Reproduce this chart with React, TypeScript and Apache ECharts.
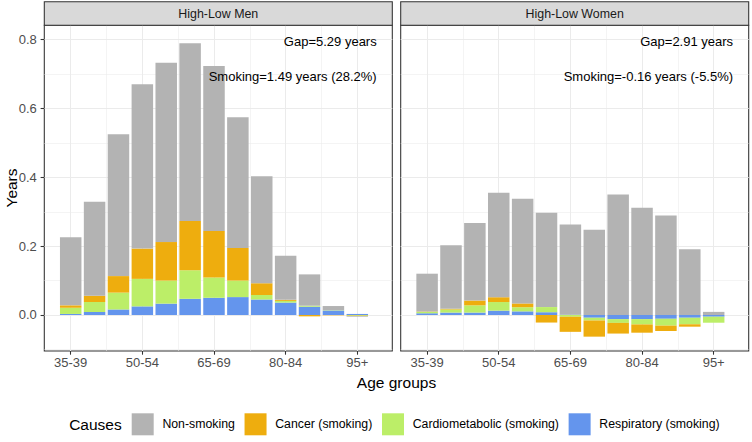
import React, { useEffect, useRef } from 'react';
import * as echarts from 'echarts';

// ---------- data ----------
const ageGroups = ['35-39', '40-44', '45-49', '50-54', '55-59', '60-64', '65-69', '70-74', '75-79', '80-84', '85-89', '90-94', '95+'];
const causes = ['Non-smoking', 'Cancer (smoking)', 'Cardiometabolic (smoking)', 'Respiratory (smoking)'];
const causeColors = ['#B3B3B3', '#EEAD0E', '#BCEE68', '#6495ED'];

const menNonSmoking = [0.198, 0.273, 0.412, 0.478, 0.521, 0.517, 0.480, 0.380, 0.311, 0.128, 0.091, 0.012, -0.002];
const menCancer = [0.007, 0.018, 0.048, 0.088, 0.112, 0.143, 0.135, 0.095, 0.034, 0.003, -0.004, -0.001, -0.001];
const menCardio = [0.018, 0.029, 0.049, 0.080, 0.067, 0.083, 0.059, 0.048, 0.013, 0.005, 0.003, 0.001, -0.002];
const menResp = [0.003, 0.009, 0.016, 0.025, 0.033, 0.047, 0.050, 0.052, 0.045, 0.036, 0.024, 0.013, 0.003];

const womenNonSmoking = [0.110, 0.185, 0.225, 0.304, 0.304, 0.274, 0.262, 0.248, 0.350, 0.312, 0.289, 0.191, 0.009];
const womenCancer = [0.001, 0.002, 0.014, 0.014, 0.011, -0.022, -0.044, -0.047, -0.031, -0.024, -0.0155, -0.007, 0];
const womenCardio = [0.004, 0.009, 0.021, 0.025, 0.012, 0.015, -0.005, -0.008, -0.011, -0.0155, -0.020, -0.019, -0.0175];
const womenResp = [0.005, 0.007, 0.007, 0.0126, 0.0105, 0.008, 0.001, -0.008, -0.012, -0.012, -0.011, -0.008, -0.005];

const panelTitles = ['High-Low Men', 'High-Low Women'];
const gapLabels = ['Gap=5.29 years', 'Gap=2.91 years'];
const smokingLabels = ['Smoking=1.49 years (28.2%)', 'Smoking=-0.16 years (-5.5%)'];

const yTicks = [0, 0.2, 0.4, 0.6, 0.8];
const yMinorTicks = [-0.1, 0.1, 0.3, 0.5, 0.7];
const xTickPositions = [1, 4, 7, 10, 13];
const xMinorPositions = [2.5, 5.5, 8.5, 11.5];

// values per panel, in cause order (Non-smoking, Cancer, Cardio, Resp)
const panelValues = [
  [menNonSmoking, menCancer, menCardio, menResp],
  [womenNonSmoking, womenCancer, womenCardio, womenResp],
];

// ---------- layout ----------
const FONT = 'Liberation Sans, Arial, Helvetica, sans-serif';
const PANEL_LEFTS = [44.3, 400.7];
const PANEL_W = 348;
const PANEL_TOP = 25.3;
const PANEL_H = 325.7;
const STRIP_TOP = 1.7;
const X_MIN = -0.1055;
const X_MAX = 14.466;
const Y_MIN = -0.1047;
const Y_MAX = 0.842;
const UNIT = PANEL_W / (X_MAX - X_MIN);

function buildOption() {
  const grids: any[] = [];
  const xAxes: any[] = [];
  const yAxes: any[] = [];
  const series: any[] = [];

  PANEL_LEFTS.forEach((left, p) => {
    // panel grid (frame, ticks, grid lines)
    const gPanel = grids.length;
    grids.push({
      left,
      top: PANEL_TOP,
      width: PANEL_W,
      height: PANEL_H,
      show: true,
      backgroundColor: '#FFFFFF',
      borderColor: '#333333',
      borderWidth: 1.07,
    });
    // data grid (category band area for the bars)
    const gData = grids.length;
    grids.push({
      left: left + (0.5 - X_MIN) * UNIT,
      top: PANEL_TOP,
      width: ageGroups.length * UNIT,
      height: PANEL_H,
      show: false,
    });

    xAxes.push({
      type: 'value',
      gridIndex: gPanel,
      min: X_MIN,
      max: X_MAX,
      position: 'bottom',
      axisLine: { show: false, onZero: false },
      axisTick: {
        show: true,
        length: 3.7,
        lineStyle: { color: '#333333', width: 1.07 },
        customValues: xTickPositions,
      },
      axisLabel: {
        customValues: xTickPositions,
        formatter: (v: number) => ageGroups[Math.round(v) - 1] ?? '',
        color: '#4D4D4D',
        fontSize: 13,
        fontFamily: FONT,
        margin: 5,
      },
      splitLine: { show: true, lineStyle: { color: '#EBEBEB', width: 1.07 } },
    });
    xAxes.push({
      type: 'value',
      gridIndex: gPanel,
      min: X_MIN,
      max: X_MAX,
      position: 'bottom',
      axisLine: { show: false, onZero: false },
      axisTick: { show: false, customValues: xMinorPositions },
      axisLabel: { show: false, customValues: xMinorPositions },
      splitLine: { show: true, lineStyle: { color: '#EBEBEB', width: 0.53 } },
    });
    const xData = xAxes.length;
    xAxes.push({
      type: 'category',
      gridIndex: gData,
      data: ageGroups,
      boundaryGap: true,
      show: false,
    });

    yAxes.push({
      type: 'value',
      gridIndex: gPanel,
      min: Y_MIN,
      max: Y_MAX,
      position: 'left',
      axisLine: { show: false, onZero: false },
      axisTick: {
        show: p === 0,
        length: 3.7,
        lineStyle: { color: '#333333', width: 1.07 },
        customValues: yTicks,
      },
      axisLabel: {
        show: p === 0,
        customValues: yTicks,
        formatter: (v: number) => v.toFixed(1),
        color: '#4D4D4D',
        fontSize: 13,
        fontFamily: FONT,
        margin: 7.5,
      },
      splitLine: { show: true, lineStyle: { color: '#EBEBEB', width: 1.07 } },
    });
    yAxes.push({
      type: 'value',
      gridIndex: gPanel,
      min: Y_MIN,
      max: Y_MAX,
      position: 'left',
      axisLine: { show: false, onZero: false },
      axisTick: { show: false, customValues: yMinorTicks },
      axisLabel: { show: false, customValues: yMinorTicks },
      splitLine: { show: true, lineStyle: { color: '#EBEBEB', width: 0.53 } },
    });
    const yData = yAxes.length;
    yAxes.push({
      type: 'value',
      gridIndex: gData,
      min: Y_MIN,
      max: Y_MAX,
      show: false,
      splitLine: { show: false },
    });

    const vals = panelValues[p];
    // stack from bottom: Respiratory, Cardiometabolic, Cancer, Non-smoking
    [3, 2, 1, 0].forEach((c) => {
      series.push({
        type: 'bar',
        name: causes[c],
        xAxisIndex: xData,
        yAxisIndex: yData,
        stack: 'panel' + p,
        barWidth: '90%',
        silent: true,
        itemStyle: { color: causeColors[c] },
        emphasis: { disabled: true },
        data: vals[c],
      });
    });
  });

  const graphics: any[] = [];
  PANEL_LEFTS.forEach((left, p) => {
    graphics.push({
      type: 'rect',
      shape: { x: left, y: STRIP_TOP, width: PANEL_W, height: PANEL_TOP - STRIP_TOP },
      style: { fill: '#D9D9D9', stroke: '#333333', lineWidth: 1.07 },
      z: 5,
    });
    graphics.push({
      type: 'text',
      x: left + PANEL_W / 2,
      y: (STRIP_TOP + PANEL_TOP) / 2 + 0.5,
      z: 6,
      style: {
        text: panelTitles[p],
        align: 'center',
        verticalAlign: 'middle',
        fontSize: 12.4,
        fontFamily: FONT,
        fill: '#1A1A1A',
      },
    });
    graphics.push({
      type: 'text',
      x: left + PANEL_W - 15.6,
      y: 41.7,
      z: 10,
      style: {
        text: gapLabels[p],
        align: 'right',
        verticalAlign: 'middle',
        fontSize: 13,
        fontFamily: FONT,
        fill: '#000000',
      },
    });
    graphics.push({
      type: 'text',
      x: left + PANEL_W - 15.6,
      y: 76,
      z: 10,
      style: {
        text: smokingLabels[p],
        align: 'right',
        verticalAlign: 'middle',
        fontSize: 13,
        fontFamily: FONT,
        fill: '#000000',
      },
    });
  });
  graphics.push({
    type: 'text',
    x: 11,
    y: 188,
    rotation: Math.PI / 2,
    z: 10,
    style: { text: 'Years', align: 'center', verticalAlign: 'middle', fontSize: 15.5, fontFamily: FONT, fill: '#000000' },
  });
  graphics.push({
    type: 'text',
    x: 396.5,
    y: 382.3,
    z: 10,
    style: { text: 'Age groups', align: 'center', verticalAlign: 'middle', fontSize: 15.5, fontFamily: FONT, fill: '#000000' },
  });
  graphics.push({
    type: 'text',
    x: 121.7,
    y: 424.5,
    z: 10,
    style: { text: 'Causes', align: 'right', verticalAlign: 'middle', fontSize: 15.5, fontFamily: FONT, fill: '#000000' },
  });

  return {
    animation: false,
    backgroundColor: '#FFFFFF',
    grid: grids,
    xAxis: xAxes,
    yAxis: yAxes,
    series,
    legend: {
      data: causes,
      left: 131.7,
      top: 413.3,
      padding: 0,
      orient: 'horizontal',
      icon: 'rect',
      itemWidth: 22,
      itemHeight: 22,
      itemGap: 9.7,
      selectedMode: false,
      textStyle: { fontSize: 12.3, fontFamily: FONT, color: '#000000', padding: [0, 0, 0, 3.7] },
    },
    graphic: graphics,
  };
}

export default function App() {
  const ref = useRef<HTMLDivElement>(null);
  useEffect(() => {
    document.body.style.margin = '0';
    if (!ref.current) return;
    const chart = echarts.init(ref.current, null, { renderer: 'svg' });
    chart.setOption(buildOption() as any);
    return () => {
      chart.dispose();
    };
  }, []);
  return <div ref={ref} style={{ width: 752, height: 442 }} />;
}
